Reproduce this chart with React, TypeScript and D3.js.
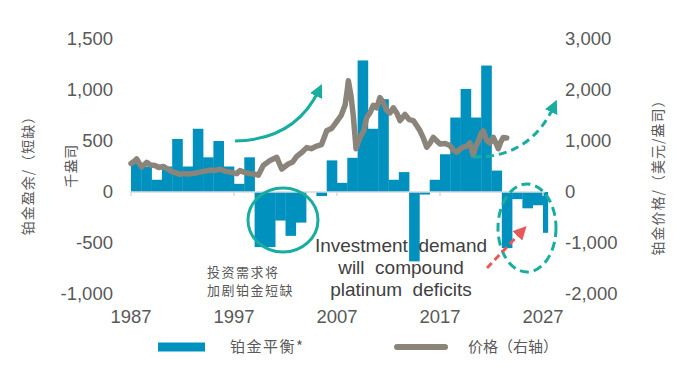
import * as d3 from "d3";

const years = d3.range(1987, 2028);
const balance = [
  285, 250, 120, 250, 520, 250, 620, 340, 500, 250,
  80, 340, -540, -540, -280, -430, -300, 0, -40, 310,
  90, 335, 1290, 620, 910, 120, 195, -680, -25, 120,
  370, 730, 1010, 730, 1240, 210, -550, -70, -160, -130,
  -400,
];

const priceTimes = [
  1987.0, 1987.3, 1987.55, 1987.8, 1988.04, 1988.52, 1988.9, 1989.33, 1989.7, 1990.14,
  1990.5, 1990.95, 1991.3, 1991.76, 1992.2, 1992.73, 1993.2, 1993.7, 1994.2, 1994.67,
  1995.1, 1995.64, 1996.1, 1996.61, 1997.26, 1997.58, 1998.1, 1998.55, 1999.0, 1999.36,
  1999.84, 2000.5, 2001.15, 2001.63, 2002.27, 2002.7, 2003.09, 2003.6, 2004.06, 2004.5,
  2005.03, 2005.5, 2006.0, 2006.5, 2006.97, 2007.4, 2007.78, 2008.0, 2008.1, 2008.35,
  2008.58, 2008.85, 2009.23, 2009.6, 2009.88, 2010.2, 2010.52, 2010.85, 2011.17, 2011.5,
  2011.82, 2012.15, 2012.47, 2012.8, 2013.12, 2013.6, 2014.0, 2014.41, 2014.75, 2015.06,
  2015.4, 2015.71, 2016.0, 2016.35, 2016.7, 2017.0, 2017.5, 2017.97, 2018.3, 2018.62,
  2019.0, 2019.26, 2019.6, 2019.91, 2020.23, 2020.45, 2020.72, 2021.0, 2021.21, 2021.54,
  2021.85, 2022.18, 2022.45, 2022.66, 2022.9, 2023.15, 2023.48,
];
const priceValues = [
  560, 600, 650, 560, 490, 580, 530, 520, 480, 500,
  460, 400, 380, 345, 360, 355, 370, 390, 410, 430,
  420, 450, 410, 390, 360, 420, 380, 360, 350, 330,
  520, 620, 680, 450, 550, 590, 700, 780, 870, 850,
  900, 930, 1200, 1250, 1380, 1500, 1700, 2000, 2180, 1900,
  1500, 850, 1070, 1200, 1460, 1550, 1700, 1650, 1850, 1750,
  1600, 1550, 1650, 1550, 1400, 1520, 1420, 1400, 1300, 1200,
  1050, 880, 950, 1070, 1000, 940, 950, 910, 820, 780,
  850, 880, 900, 960, 720, 880, 1000, 1150, 1200, 1010,
  960, 1070, 950, 850, 980, 1070, 1060,
];

const leftTicks = [-1000, -500, 0, 500, 1000, 1500];
const rightTicks = [-2000, -1000, 0, 1000, 2000, 3000];
const xTicks = [1987, 1997, 2007, 2017, 2027];

const BLUE = "#0091be";
const GREY = "#8a847a";
const TEAL = "#19ad9f";
const RED = "#e85a5a";
const LABEL = "#595959";
const LATIN = "'Liberation Sans', Arial, sans-serif";
const CJK = "'Noto Sans CJK SC', sans-serif";

// excel style: plain hyphen for negatives
const fmt = (v: number) => d3.format(",")(v).replace("−", "-");

export default function App() {
  const x = d3.scaleLinear().domain([1987, 2027]).range([131, 543]);
  const yL = d3.scaleLinear().domain([-1000, 1500]).range([294, 39]);
  const yR = d3.scaleLinear().domain([-2000, 3000]).range([294, 39]);
  const y0 = yL(0);
  const xEnd = x(2027.5);

  const line = d3
    .line<number>()
    .x((_, i) => x(priceTimes[i]))
    .y((d) => yR(d));

  return (
    <svg
      width={700}
      height={372}
      style={{ position: "absolute", left: 0, top: 0, background: "#fff" }}
    >
      <defs>
        <clipPath id="plot">
          <rect x={x(1987)} y={0} width={xEnd - x(1987)} height={372} />
        </clipPath>
        <marker id="headTeal" viewBox="0 0 10 10" refX="5" refY="5" markerWidth="4.5" markerHeight="4.5" orient="auto">
          <path d="M0,0 L10,5 L0,10 z" fill={TEAL} />
        </marker>
        <marker id="headRed" viewBox="0 0 10 10" refX="5" refY="5" markerWidth="4.5" markerHeight="4.5" orient="auto">
          <path d="M0,0 L10,5 L0,10 z" fill={RED} />
        </marker>
      </defs>

      {/* bars */}
      <g clipPath="url(#plot)">
        {years.map((yr, i) => {
          const v = balance[i];
          return (
            <rect
              key={yr}
              x={x(yr)}
              y={v >= 0 ? yL(v) : y0}
              width={x(yr + 1) - x(yr) + 0.3}
              height={Math.abs(yL(v) - y0)}
              fill={BLUE}
            />
          );
        })}
      </g>

      {/* x axis */}
      <line x1={x(1987)} x2={xEnd - 3} y1={y0} y2={y0} stroke="#d9d9d9" strokeWidth={1.5} />
      {xTicks.map((t) => (
        <g key={t}>
          <line x1={x(t)} x2={x(t)} y1={y0} y2={y0 + 4} stroke="#d9d9d9" strokeWidth={1.5} />
          <text x={x(t)} y={323} textAnchor="middle" fontFamily={LATIN} fontSize={18.5} fill={LABEL}>
            {t}
          </text>
        </g>
      ))}

      {/* price line */}
      <path
        d={line(priceValues) || ""}
        fill="none"
        stroke={GREY}
        strokeWidth={5.5}
        strokeLinejoin="round"
        strokeLinecap="round"
      />

      {/* left axis labels */}
      {leftTicks.map((t) => (
        <text key={t} x={113} y={yL(t)} dy="0.35em" textAnchor="end" fontFamily={LATIN} fontSize={18.5} fill={LABEL}>
          {fmt(t)}
        </text>
      ))}
      {/* right axis labels */}
      {rightTicks.map((t) => (
        <text key={t} x={565} y={yR(t)} dy="0.35em" textAnchor="start" fontFamily={LATIN} fontSize={18.5} fill={LABEL}>
          {fmt(t)}
        </text>
      ))}

      {/* axis titles */}
      <text transform="translate(28,172) rotate(-90)" textAnchor="middle" dy="0.35em" fontFamily={CJK} fontSize={14} letterSpacing={1} fill={LABEL}>
        铂金盈余/（短缺）
      </text>
      <text transform="translate(71,166) rotate(-90)" textAnchor="middle" dy="0.35em" fontFamily={CJK} fontSize={14} letterSpacing={0.5} fill={LABEL}>
        千盎司
      </text>
      <text transform="translate(658,174) rotate(-90)" textAnchor="middle" dy="0.35em" fontFamily={CJK} fontSize={14} letterSpacing={1} fill={LABEL}>
        铂金价格/（美元/盎司）
      </text>

      {/* annotations */}
      <path d="M235,141 Q295,140 319,90" fill="none" stroke={TEAL} strokeWidth={3} markerEnd="url(#headTeal)" />
      <ellipse cx={283} cy={220} rx={35} ry={32} fill="none" stroke={TEAL} strokeWidth={3} />
      <path d="M473,157 Q530,158 554,106" fill="none" stroke={TEAL} strokeWidth={3} strokeDasharray="8 5" markerEnd="url(#headTeal)" />
      <ellipse cx={527} cy={228} rx={29} ry={44} fill="none" stroke={TEAL} strokeWidth={3} strokeDasharray="9 5" />
      <path d="M487,268 L522,231" fill="none" stroke={RED} strokeWidth={3} strokeDasharray="7 4" markerEnd="url(#headRed)" />

      <text x={401} textAnchor="middle" fontFamily={LATIN} fontSize={19} fill="#404040" style={{ whiteSpace: "pre" }}>
        <tspan x={401} y={252}>{"Investment  demand"}</tspan>
        <tspan x={401} y={274}>{"will  compound"}</tspan>
        <tspan x={401} y={296}>{"platinum  deficits"}</tspan>
      </text>

      <text fontFamily={CJK} fontSize={13} letterSpacing={1.5} fill={LABEL}>
        <tspan x={207} y={277}>投资需求将</tspan>
        <tspan x={207} y={295}>加剧铂金短缺</tspan>
      </text>

      {/* legend */}
      <rect x={158} y={342.5} width={47} height={9} fill={BLUE} />
      <text x={230} y={347} dy="0.35em" fontFamily={CJK} fontSize={15} letterSpacing={1.5} fill={LABEL}>
        铂金平衡*
      </text>
      <line x1={397} x2={445} y1={347} y2={347} stroke={GREY} strokeWidth={6} strokeLinecap="round" />
      <text x={468} y={347} dy="0.35em" fontFamily={CJK} fontSize={15} letterSpacing={0} fill={LABEL}>
        价格（右轴）
      </text>
    </svg>
  );
}
